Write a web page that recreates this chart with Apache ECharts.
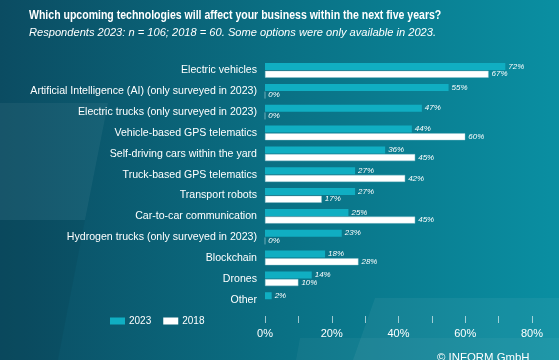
<!DOCTYPE html>
<html>
<head>
<meta charset="utf-8">
<script src="https://cdn.jsdelivr.net/npm/echarts@6/dist/echarts.min.js"></script>
<style>
html,body{margin:0;padding:0;background:#0b6278;}
#chart{width:559px;height:360px;}
</style>
</head>
<body>
<div id="chart"></div>
<script>
const categories = [
  'Electric vehicles',
  'Artificial Intelligence (AI) (only surveyed in 2023)',
  'Electric trucks (only surveyed in 2023)',
  'Vehicle-based GPS telematics',
  'Self-driving cars within the yard',
  'Truck-based GPS telematics',
  'Transport robots',
  'Car-to-car communication',
  'Hydrogen trucks (only surveyed in 2023)',
  'Blockchain',
  'Drones',
  'Other'
];
const values2023 = [72, 55, 47, 44, 36, 27, 27, 25, 23, 18, 14, 2];
const values2018 = [67, 0, 0, 60, 45, 42, 17, 45, 0, 28, 10, null];
const tickValues = [0, 20, 40, 60, 80];
const titleText = 'Which upcoming technologies will affect your business within the next five years?';
const subtitleText = 'Respondents 2023: n = 106; 2018 = 60. Some options were only available in 2023.';
const creditText = '\u00A9 INFORM GmbH';

const FONT = "'Liberation Sans', sans-serif";
const chart = echarts.init(document.getElementById('chart'), null, {renderer: 'canvas'});

const labelStyle = {
  show: true,
  position: 'right',
  distance: 3,
  color: '#ffffff',
  fontFamily: FONT,
  fontStyle: 'italic',
  fontSize: 8,
  formatter: p => (p.value == null ? '' : p.value + '%')
};

chart.setOption({
  animation: false,
  backgroundColor: new echarts.graphic.LinearGradient(0, 0, 1, 0, [
    {offset: 0, color: '#0b4c62'},
    {offset: 0.5, color: '#0a7084'},
    {offset: 1, color: '#0a8fa2'}
  ]),
  graphic: [
    {type: 'polygon', z: -1, silent: true, shape: {points: [[0,103],[108,103],[85,220],[0,220]]}, style: {fill: 'rgba(255,255,255,0.05)'}},
    {type: 'polygon', z: -1, silent: true, shape: {points: [[0,220],[85,220],[58,360],[0,360]]}, style: {fill: 'rgba(0,0,0,0.05)'}},
    {type: 'polygon', z: -1, silent: true, shape: {points: [[375,298],[559,298],[559,360],[353,360]]}, style: {fill: 'rgba(255,255,255,0.05)'}},
    {type: 'polygon', z: -1, silent: true, shape: {points: [[300,338],[559,338],[559,360],[296,360]]}, style: {fill: 'rgba(255,255,255,0.04)'}},
    {type: 'text', x: 29, y: 15.5, scaleX: 0.877, silent: true,
     style: {text: titleText, fill: '#ffffff', font: "bold 12px " + FONT, verticalAlign: 'middle', align: 'left'}},
    {type: 'text', x: 29, y: 33, scaleX: 1.01, silent: true,
     style: {text: subtitleText, fill: '#ffffff', font: "italic 11px " + FONT, verticalAlign: 'middle', align: 'left'}},
    {type: 'text', x: 437, y: 352, silent: true,
     style: {text: creditText, fill: '#ffffff', font: "11.4px " + FONT, verticalAlign: 'top', align: 'left'}}
  ],
  legend: {
    data: ['2023', '2018'],
    left: 110,
    top: 316,
    itemWidth: 15,
    itemHeight: 7,
    itemGap: 12,
    padding: 0,
    icon: 'rect',
    itemStyle: {borderWidth: 0},
    textStyle: {color: '#ffffff', fontFamily: FONT, fontSize: 10, padding: [0,0,0,-1]}
  },
  grid: {left: 265, right: 27, top: 60, bottom: 50, containLabel: false},
  xAxis: {
    type: 'value',
    min: 0,
    max: 80,
    interval: 10,
    offset: 6,
    splitLine: {show: false},
    axisLine: {show: false},
    axisTick: {show: true, length: 7, lineStyle: {color: 'rgba(255,255,255,0.6)'}},
    axisLabel: {
      color: '#ffffff', fontFamily: FONT, fontSize: 11, margin: 12,
      formatter: v => (tickValues.indexOf(v) >= 0 ? v + '%' : '')
    }
  },
  yAxis: {
    type: 'category',
    data: categories,
    inverse: true,
    axisLine: {show: false},
    axisTick: {show: false},
    axisLabel: {color: '#ffffff', fontFamily: FONT, fontSize: 10.6, margin: 8}
  },
  series: [
    {
      name: '2023', type: 'bar', data: values2023, barWidth: 7, barGap: '10%',
      itemStyle: {color: '#10aec2'},
      label: labelStyle
    },
    {
      name: '2018', type: 'bar', data: values2018, barWidth: 7, barGap: '10%',
      itemStyle: {color: '#ffffff', borderColor: 'rgba(150,200,210,0.8)', borderWidth: 0.5},
      label: labelStyle
    }
  ]
});
</script>
</body>
</html>
